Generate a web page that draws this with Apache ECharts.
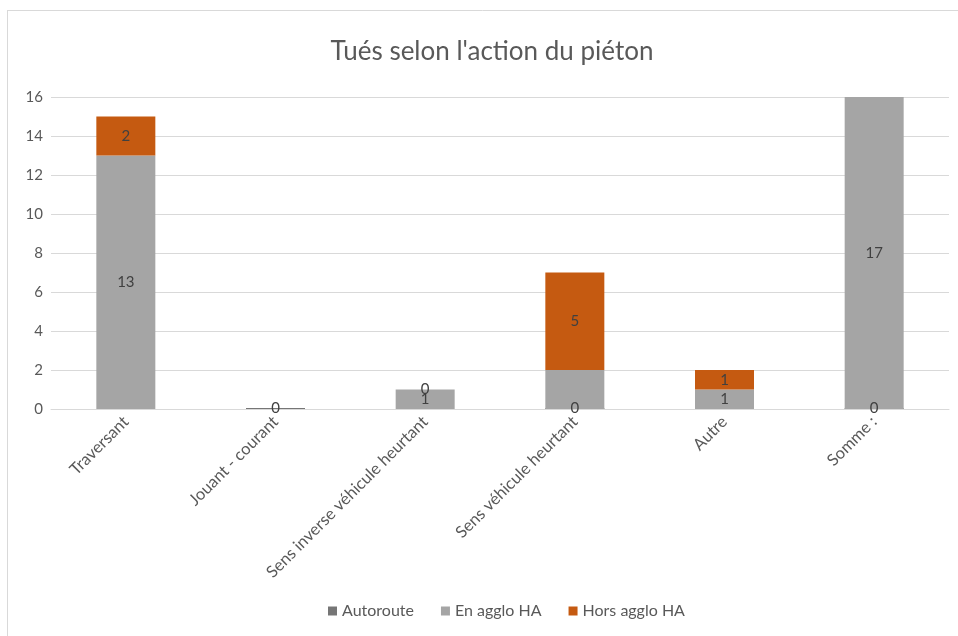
<!DOCTYPE html>
<html>
<head>
<meta charset="utf-8">
<script src="https://cdn.jsdelivr.net/npm/echarts@6/dist/echarts.min.js"></script>
<style>
  html, body { margin: 0; padding: 0; background: #ffffff; }
  #chart { width: 958px; height: 636px; }
</style>
</head>
<body>
<div id="chart"></div>
<script>
// Pedestrian deaths by pedestrian action, stacked by road type
const categories = ['Traversant', 'Jouant - courant', 'Sens inverse véhicule heurtant', 'Sens véhicule heurtant', 'Autre', 'Somme :'];
const autoroute = [null, 0, null, 0, null, 0];
const enAggloHA = [13, null, 1, 2, 1, 17];
const horsAggloHA = [2, null, 0, 5, 1, null];
// values whose data label is not printed
const hiddenLabels = { 'En agglo HA': [3] };
const yTicks = { min: 0, max: 16, interval: 2 };

const textColor = '#595959';
const labelColor = '#404040';
const font = 'Lato, "Open Sans", sans-serif';

function makeSeries(name, data, color) {
  const hidden = hiddenLabels[name] || [];
  return {
    name: name,
    type: 'bar',
    stack: 'total',
    barWidth: 59,
    clip: true,
    itemStyle: { color: color },
    data: data.map((v, i) => (v === null ? null : {
      value: v,
      label: { show: hidden.indexOf(i) === -1 }
    })),
    label: {
      show: true,
      position: 'inside',
      color: labelColor,
      fontFamily: font,
      fontSize: 15
    }
  };
}

const chart = echarts.init(document.getElementById('chart'), null, { renderer: 'canvas' });
chart.setOption({
  backgroundColor: '#ffffff',
  animation: false,
  title: {
    text: "Tués selon l'action du piéton",
    left: 487,
    textAlign: 'center',
    top: 34,
    textStyle: { color: textColor, fontFamily: font, fontSize: 26, fontWeight: 'normal' }
  },
  legend: {
    bottom: 12,
    left: 323,
    itemWidth: 9,
    itemHeight: 9,
    itemGap: 27,
    icon: 'rect',
    textStyle: { color: textColor, fontFamily: font, fontSize: 16 },
    data: ['Autoroute', 'En agglo HA', 'Hors agglo HA']
  },
  grid: { left: 51, right: 9, top: 97, bottom: 227, containLabel: false },
  xAxis: {
    type: 'category',
    data: categories,
    axisLine: { lineStyle: { color: '#d9d9d9' } },
    axisTick: { show: false },
    axisLabel: { rotate: 45, interval: 0, color: textColor, fontFamily: font, fontSize: 16.5, margin: 10 }
  },
  yAxis: {
    type: 'value',
    min: yTicks.min,
    max: yTicks.max,
    interval: yTicks.interval,
    axisLine: { show: false },
    axisTick: { show: false },
    splitLine: { lineStyle: { color: '#d9d9d9', width: 1 } },
    axisLabel: { color: textColor, fontFamily: font, fontSize: 15, margin: 8 }
  },
  graphic: [
    { type: 'line', shape: { x1: 7.5, y1: 10, x2: 7.5, y2: 636 }, style: { stroke: '#d9d9d9', lineWidth: 1 }, silent: true },
    { type: 'line', shape: { x1: 7, y1: 10.5, x2: 958, y2: 10.5 }, style: { stroke: '#d9d9d9', lineWidth: 1 }, silent: true }
  ],
  series: [
    Object.assign(makeSeries('Autoroute', autoroute, '#767676'), { barMinHeight: 1 }),
    makeSeries('En agglo HA', enAggloHA, '#a5a5a5'),
    makeSeries('Hors agglo HA', horsAggloHA, '#c55a11')
  ]
});
</script>
</body>
</html>
